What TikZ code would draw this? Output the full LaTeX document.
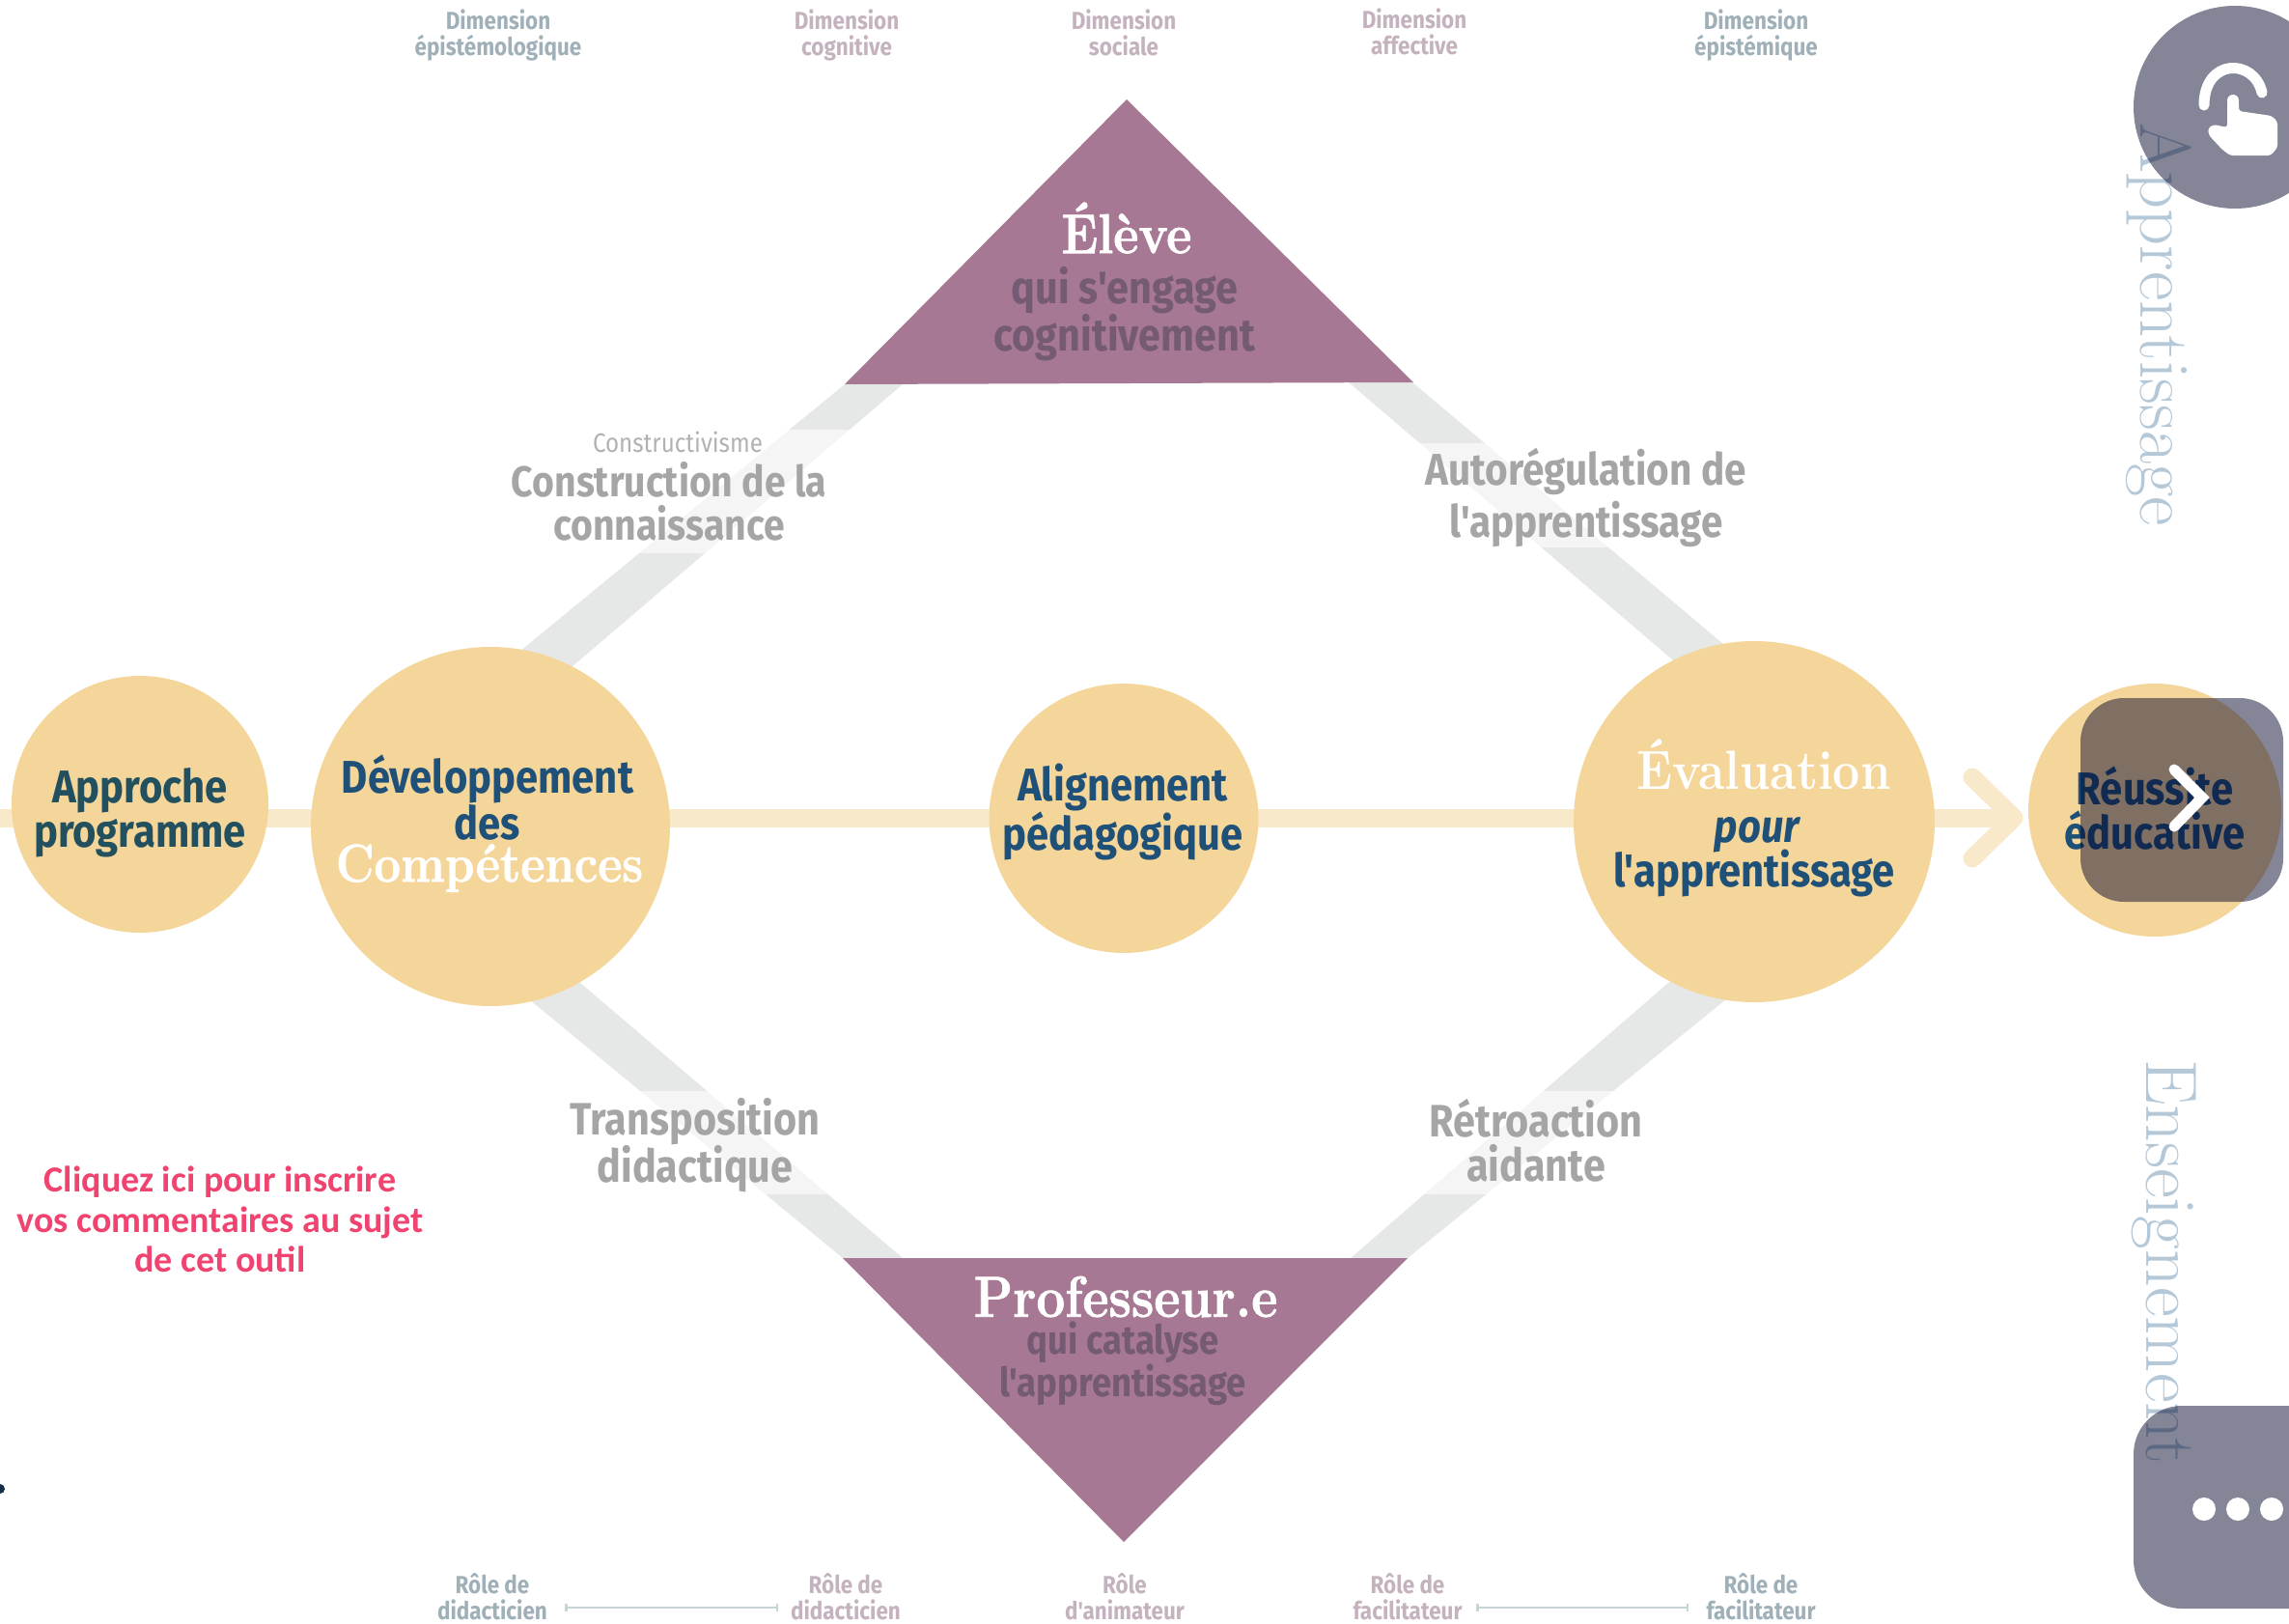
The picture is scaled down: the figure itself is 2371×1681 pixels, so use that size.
\documentclass[tikz,border=0pt]{standalone}
\usepackage{fontspec}
\usetikzlibrary{arrows.meta}
\newfontfamily\cond[FakeStretch=0.88]{Fira Sans}
\newfontfamily\dsp[FakeStretch=0.88]{Latin Modern Roman}
\newfontfamily\dspheavy[FakeStretch=0.88,BoldFeatures={FakeBold=1.2}]{Latin Modern Roman}
\newfontfamily\pinkfont{Carlito}
\newcommand{\szf}[2]{\fontsize{#1}{#2}\selectfont}
\definecolor{gold}{HTML}{F5D69A}
\definecolor{goldline}{HTML}{F9E9CB}
\definecolor{plum}{HTML}{A67893}
\definecolor{plumdark}{HTML}{745A72}
\definecolor{navy}{HTML}{1F5078}
\definecolor{teal}{HTML}{22505F}
\definecolor{bandgrey}{HTML}{E6E7E7}
\definecolor{labelgrey}{HTML}{A5A5A5}
\definecolor{slate}{HTML}{9FB0B8}
\definecolor{mauve}{HTML}{C4B2BF}
\definecolor{paleblue}{HTML}{B4C8D8}
\definecolor{pink}{HTML}{F0436F}
\definecolor{overlay}{HTML}{000128}
\definecolor{rule}{HTML}{C8D4D6}
\tikzset{
  x=1pt,y=-1pt,
  disc/.style={circle,fill=gold,inner sep=0pt,minimum size=#1},
  txt/.style={inner sep=0pt,align=center,anchor=center},
  bandshape/.style={fill=bandgrey},
  veil/.style={fill=white,fill opacity=0.6},
  tri/.style={fill=plum},
  blue/.style={txt,text=navy,font=\cond\bfseries\szf{47.5}{46}},
  bluedark/.style={txt,text=teal,font=\cond\bfseries\szf{47.5}{46}},
  serif/.style={txt,text=white,font=\dspheavy\bfseries\szf{#1}{#1}},
  serifsoft/.style={txt,text=white,font=\dsp\bfseries\szf{#1}{#1}},
  sub/.style={txt,text=plumdark},
  bandlabel/.style={txt,text=labelgrey},
  toplabel/.style={txt,text=#1,font=\cond\bfseries\szf{25.5}{27}},
  sidetext/.style={inner sep=0pt,anchor=base west,rotate=-90,text=paleblue,font=\rmfamily\szf{#1}{#1}},
  button/.style={fill=overlay,fill opacity=0.48},
  goldarrow/.style={draw=goldline,line width=19pt,line cap=round,line join=round},
  rel/.style={draw=rule,line width=2.5pt,{Bar[width=8pt,length=1.5pt]}-{Bar[width=8pt,length=1.5pt]}},
}
\begin{document}
\begin{tikzpicture}
\path[use as bounding box] (0,0) rectangle (2371,1681);
\clip (0,0) rectangle (2371,1681);
\fill[white] (0,0) rectangle (2371,1681);

% coordinates for connectors
\coordinate (start) at (-15,847);
\coordinate (tip) at (2086,847);
\coordinate (armA) at (2043,805);
\coordinate (armB) at (2043,889);
\coordinate (ruleA) at (585,1665);
\coordinate (ruleB) at (806,1665);
\coordinate (ruleC) at (1529,1665);
\coordinate (ruleD) at (1749,1665);

% grey bands
\fill[bandshape] (510,698) -- (875,398) -- (935,398) -- (565,714) -- cycle;
\fill[bandshape] (1397,396) -- (1463,396) -- (1810,688) -- (1760,707) -- cycle;
\fill[bandshape] (525,1016) -- (580,1000) -- (935,1303) -- (873,1303) -- cycle;
\fill[bandshape] (1399,1303) -- (1750,999) -- (1810,1017) -- (1458,1303) -- cycle;
\fill[veil] (600,445) rectangle (1000,573);
\fill[veil] (1400,459) rectangle (1800,567);
\fill[veil] (600,1130) rectangle (1000,1237);
\fill[veil] (1400,1130) rectangle (1800,1237);

% central axis
\draw[goldarrow,line cap=butt] (start) -- (tip);
\draw[goldarrow] (armA) -- (tip) -- (armB);

% triangles
\fill[tri] (1167,103) -- (1464,396) -- (875,398) -- cycle;
\fill[tri] (873,1303) -- (1458,1303) -- (1164,1597) -- cycle;

% discs
\node[disc=266pt] (approche) at (145,833) {};
\node[disc=372pt] (dev) at (508,856) {};
\node[disc=279pt] (align) at (1164,847.5) {};
\node[disc=374pt] (eval) at (1817,851) {};
\node[disc=262pt] (reussite) at (2232,839) {};

% disc labels
\node[bluedark] (tApproche) at (145,842) {Approche\\programme};
\node[blue] (tDev) at (505,826) {Développement\\des};
\node[serif=55.5] (tComp) at (507,899) {Compétences};
\node[blue] (tAlign) at (1163,841) {Alignement\\pédagogique};
\node[serifsoft=57] (tEval) at (1827,792) {Évaluation};
\node[blue,font=\cond\bfseries\itshape\szf{47.5}{46}] (tPour) at (1820,865) {pour};
\node[blue] (tEval2) at (1817,904) {l'apprentissage};
\node[blue] (tReussite) at (2232,837) {Réussite\\éducative};

% triangle labels
\node[serif=58] (tEleve) at (1167,236) {Élève};
\node[sub,font=\cond\bfseries\szf{47}{46}] (tEleve2) at (1165,325) {qui s'engage\\cognitivement};
\node[serif=60] (tProf) at (1166,1343) {Professeur.e};
\node[sub,font=\cond\bfseries\szf{41.5}{41}] (tProf2) at (1163,1412) {qui catalyse\\l'apprentissage};

% band labels
\node[txt,text=labelgrey!85,font=\cond\szf{27.5}{30}] (tConstr0) at (702,458) {Constructivisme};
\node[bandlabel,font=\cond\bfseries\szf{44.5}{45}] (tConstr) at (693,519) {Construction de la\\connaissance};
\node[bandlabel,font=\cond\bfseries\szf{46}{54}] (tAuto) at (1643,515) {Autorégulation de\\l'apprentissage};
\node[bandlabel,font=\cond\bfseries\szf{47}{46}] (tTrans) at (720,1186) {Transposition\\didactique};
\node[bandlabel,font=\cond\bfseries\szf{47}{46}] (tRetro) at (1591,1181) {Rétroaction\\aidante};

% top labels
\node[toplabel=slate] (d1) at (516,36) {Dimension\\épistémologique};
\node[toplabel=mauve] (d2) at (877,36) {Dimension\\cognitive};
\node[toplabel=mauve] (d3) at (1164,34) {Dimension\\sociale};
\node[toplabel=mauve] (d4) at (1465,33) {Dimension\\affective};
\node[toplabel=slate] (d5) at (1819,36) {Dimension\\épistémique};

% bottom labels
\node[toplabel=slate] (r1) at (510,1654) {Rôle de\\didacticien};
\node[toplabel=mauve] (r2) at (876,1654) {Rôle de\\didacticien};
\node[toplabel=mauve] (r3) at (1165,1654) {Rôle\\d'animateur};
\node[toplabel=mauve] (r4) at (1458,1654) {Rôle de\\facilitateur};
\node[toplabel=slate] (r5) at (1824,1654) {Rôle de\\facilitateur};
\draw[rel] (ruleA) -- (ruleB);
\draw[rel] (ruleC) -- (ruleD);

% comment prompt
\node[txt,text=pink,font=\pinkfont\bfseries\szf{38}{41.5}] (comment) at (228,1263) {Cliquez ici pour inscrire\\vos commentaires au sujet\\de cet outil};

% vertical words
\node[sidetext=74.5] (tApp) at (2217,127) {Apprentissage};
\node[sidetext=75.5] (tEns) at (2223,1097) {Enseignement};

% small mark at the left edge
\fill[navy!60!black] (0,1542) circle (5);

% interface buttons
\fill[button] (2315,111) circle (105);
\draw[white,line width=11pt,line cap=round] (2283,109) .. controls (2283,60) and (2335,60) .. (2343,96);
\fill[white,rounded corners=3pt] (2307,104) -- (2319,104) -- (2319,115) -- (2353,120) -- (2359,126) -- (2359,153) -- (2352,161) -- (2310,161) -- (2302,155) -- (2288,140) -- (2287,133) -- (2293,129) -- (2307,132) -- cycle;
\fill[white] (2313,104) circle (6);
\fill[button,rounded corners=45pt] (2155,723) rectangle (2365,934);
\draw[white,line width=11pt,line cap=round,line join=miter] (2252,797) -- (2281,826) -- (2252,856);
\fill[button,rounded corners=50pt] (2210,1456) rectangle (2500,1666);
\fill[white] (2283,1563) circle (12);
\fill[white] (2318,1563) circle (12);
\fill[white] (2353,1563) circle (12);
\end{tikzpicture}
\end{document}
